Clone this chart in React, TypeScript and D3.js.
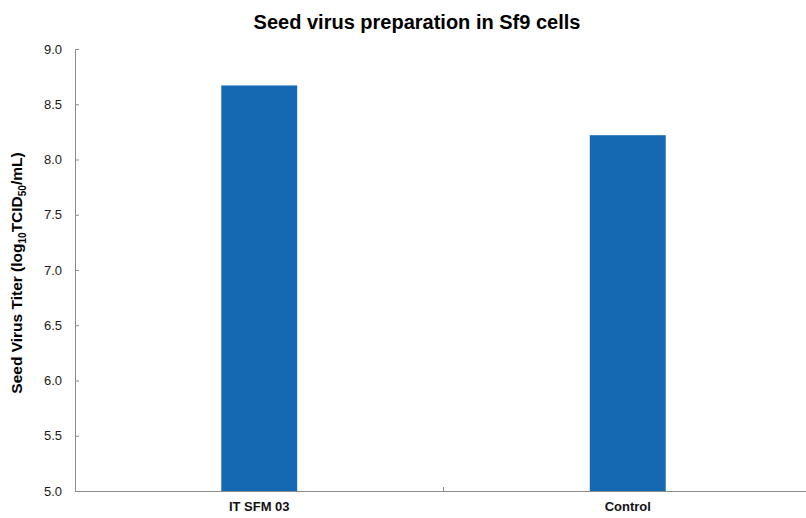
import { useEffect, useRef } from "react"
import * as d3 from "d3"

const categories = ["IT SFM 03", "Control"]
const titers = [8.67, 8.22]
const yTicks = [5.0, 5.5, 6.0, 6.5, 7.0, 7.5, 8.0, 8.5, 9.0]

const width = 806
const height = 518
const margin = { top: 49, right: -6, bottom: 27, left: 75 }

const App = () => {
  const ref = useRef<SVGSVGElement>(null)

  useEffect(() => {
    const svg = d3.select(ref.current)
    svg.selectAll("*").remove()

    const x = d3
      .scaleBand()
      .domain(categories)
      .range([margin.left, width - margin.right])

    const y = d3
      .scaleLinear()
      .domain([5, 9])
      .range([height - margin.bottom, margin.top])

    const barW = x.bandwidth() * 0.206
    const axisColor = "#8c8c8c"

    // bars
    svg
      .append("g")
      .selectAll("rect")
      .data(categories)
      .enter()
      .append("rect")
      .attr("x", d => x(d)! + x.bandwidth() / 2 - barW / 2)
      .attr("y", (d, i) => y(titers[i]))
      .attr("width", barW)
      .attr("height", (d, i) => y(5) - y(titers[i]))
      .attr("fill", "#1569b3")

    // y axis
    const yAxis = svg
      .append("g")
      .attr("transform", `translate(${margin.left},0)`)
      .call(
        d3.axisLeft(y)
          .tickValues(yTicks)
          .tickSizeInner(-4)
          .tickSizeOuter(0)
          .tickPadding(13)
          .tickFormat(d3.format(".1f"))
      )
    yAxis.select(".domain").attr("stroke", axisColor)
    yAxis.selectAll(".tick line").attr("stroke", axisColor)
    yAxis
      .selectAll("text")
      .attr("font-family", "Arial, 'Liberation Sans', sans-serif")
      .attr("font-size", 13)
      .attr("fill", "#1a1a1a")

    // x axis
    const xAxis = svg
      .append("g")
      .attr("transform", `translate(0,${y(5)})`)
      .call(d3.axisBottom(x).tickSize(0).tickPadding(11))
    xAxis.select(".domain").attr("stroke", axisColor)
    xAxis
      .selectAll("text")
      .attr("font-family", "Arial, 'Liberation Sans', sans-serif")
      .attr("font-size", 13)
      .attr("font-weight", "bold")
      .attr("fill", "#111")

    // separator ticks between categories
    xAxis
      .selectAll("line.sep")
      .data(categories.slice(1))
      .enter()
      .append("line")
      .attr("class", "sep")
      .attr("x1", d => x(d)!)
      .attr("x2", d => x(d)!)
      .attr("y1", 0)
      .attr("y2", -4)
      .attr("stroke", axisColor)

    // title
    svg
      .append("text")
      .attr("x", 417)
      .attr("y", 29)
      .attr("text-anchor", "middle")
      .attr("font-family", "Arial, 'Liberation Sans', sans-serif")
      .attr("font-size", 20)
      .attr("font-weight", "bold")
      .text("Seed virus preparation in Sf9 cells")

    // y label with subscripts
    const label = svg
      .append("text")
      .attr("transform", `translate(22,273) rotate(-90)`)
      .attr("text-anchor", "middle")
      .attr("font-family", "Arial, 'Liberation Sans', sans-serif")
      .attr("font-size", 15.5)
      .attr("font-weight", "bold")
    label.append("tspan").text("Seed Virus Titer (log")
    label.append("tspan").attr("font-size", 10).attr("dy", 4).text("10")
    label.append("tspan").attr("dy", -4).text("TCID")
    label.append("tspan").attr("font-size", 10).attr("dy", 4).text("50")
    label.append("tspan").attr("dy", -4).text("/mL)")
  })

  return (
    <div style={{ position: "absolute", left: 0, top: 0 }}>
      <svg ref={ref} width={width} height={height} style={{ display: "block", background: "#fff" }} />
    </div>
  )
}

export default App
